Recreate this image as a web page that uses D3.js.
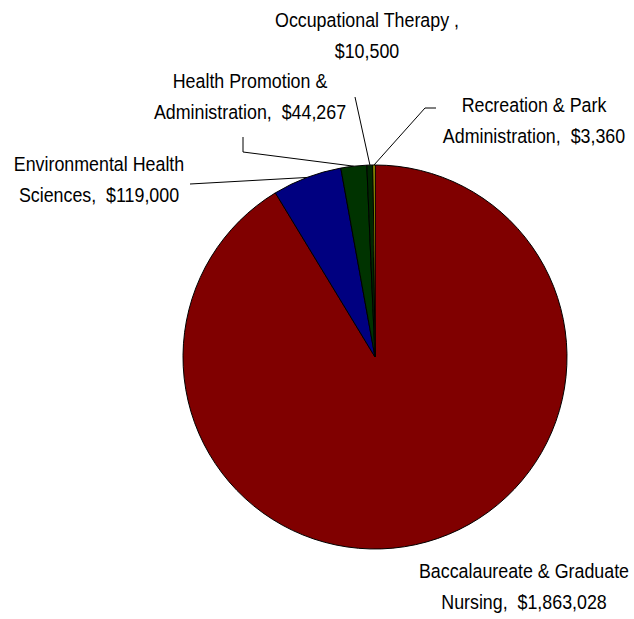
<!DOCTYPE html>
<html>
<head>
<meta charset="utf-8">
<script src="https://cdn.jsdelivr.net/npm/d3@7/dist/d3.min.js"></script>
<style>
  body { margin: 0; background: #fff; }
  text { font-family: "Liberation Sans", Arial, sans-serif; font-size: 20.5px; fill: #000; }
</style>
</head>
<body>
<svg width="634" height="619"></svg>
<script>
// data
var categories = ["Baccalaureate & Graduate Nursing", "Environmental Health Sciences", "Health Promotion & Administration", "Occupational Therapy", "Recreation & Park Administration"];
var values = [1863028, 119000, 44267, 10500, 3360];
var colors = ["#800000", "#000080", "#003300", "#002800", "#ffff00"];
var labelLines = [
  ["Baccalaureate & Graduate", "Nursing,  $1,863,028"],
  ["Environmental Health", "Sciences,  $119,000"],
  ["Health Promotion &", "Administration,  $44,267"],
  ["Occupational Therapy ,", "$10,500"],
  ["Recreation & Park", "Administration,  $3,360"]
];

// layout of labels (x centre, first baseline) and leader line bends
var labelPos = [[524, 578], [99, 171], [250, 88], [367, 27], [534, 112]];
var leaderPts = [null, [[190, 184]], [[243, 137], [243, 152]], [[355, 97]], [[436, 108], [425, 108]]];
var narrow = 0.87; // condensed look of the original font

var svg = d3.select("svg");
var cx = 375, cy = 357, r = 192;

var pie = d3.pie().sort(null).value(function(d) { return d; });
var arcs = pie(values);
var arc = d3.arc().innerRadius(0).outerRadius(r);

var g = svg.append("g").attr("transform", "translate(" + cx + "," + cy + ")");

g.selectAll(".slice")
  .data(arcs)
  .enter().append("path")
  .attr("class", "slice")
  .attr("d", arc)
  .attr("fill", function(d, i) { return colors[i]; })
  .attr("stroke", "#000")
  .attr("stroke-width", 1);

// leader lines
arcs.forEach(function(d, i) {
  if (!leaderPts[i]) return;
  var a = (d.startAngle + d.endAngle) / 2;
  var end = [cx + r * Math.sin(a), cy - r * Math.cos(a)];
  var pts = leaderPts[i].concat([end]);
  svg.append("path")
    .attr("d", d3.line()(pts))
    .attr("fill", "none")
    .attr("stroke", "#000")
    .attr("stroke-width", 1);
});

// labels
labelLines.forEach(function(lines, i) {
  var t = svg.append("text")
    .attr("text-anchor", "middle")
    .attr("transform", "translate(" + labelPos[i][0] + "," + labelPos[i][1] + ") scale(" + narrow + ",1)");
  lines.forEach(function(s, j) {
    t.append("tspan")
      .attr("x", 0)
      .attr("dy", j == 0 ? 0 : 31)
      .attr("xml:space", "preserve")
      .text(s);
  });
});
</script>
</body>
</html>
